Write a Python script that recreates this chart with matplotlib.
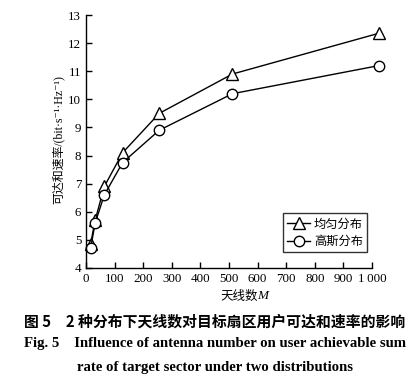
import matplotlib
matplotlib.use("Agg")
import matplotlib.pyplot as plt

antennas = [16, 32, 64, 128, 256, 512, 1024]
uniform = [4.85, 5.7, 6.9, 8.1, 9.5, 10.9, 12.35]
gaussian = [4.7, 5.6, 6.6, 7.75, 8.9, 10.2, 11.2]
series_names = ["均匀分布", "高斯分布"]
xticks = [0, 100, 200, 300, 400, 500, 600, 700, 800, 900, 1000]
xticklabels = ["0", "100", "200", "300", "400", "500", "600", "700", "800", "900", "1\u2009000"]
yticks = [4, 5, 6, 7, 8, 9, 10, 11, 12, 13]

SERIF = ["Liberation Serif", "Noto Sans CJK SC", "DejaVu Sans"]
plt.rcParams['font.family'] = SERIF

W, H = 420, 380
fig = plt.figure(figsize=(W / 100, H / 100), dpi=100)
ax = fig.add_axes([86 / W, 1 - 268 / H, (372 - 86) / W, (268 - 15) / H])

ax.plot(antennas, uniform, color="black", lw=1.0, marker="^", ms=8,
        mfc="white", mec="black", mew=1.0, label=series_names[0], clip_on=False)
ax.plot(antennas, gaussian, color="black", lw=1.0, marker="o", ms=7.5,
        mfc="white", mec="black", mew=1.0, label=series_names[1], clip_on=False)

ax.set_xlim(0, 1000)
ax.set_ylim(4, 13)
ax.set_xticks(xticks)
ax.set_xticklabels(xticklabels)
ax.set_yticks(yticks)
ax.tick_params(direction="in", length=4, width=1, labelsize=9.4, pad=3.5)
for s in ["top", "right"]:
    ax.spines[s].set_visible(False)
for s in ["left", "bottom"]:
    ax.spines[s].set_linewidth(1.0)

leg = ax.legend(loc="lower right", bbox_to_anchor=(0.983, 0.063), frameon=True,
                fancybox=False, edgecolor="black", handlelength=1.9,
                handletextpad=0.3, borderpad=0.35, labelspacing=0.35,
                borderaxespad=0.0,
                prop={"family": ["Noto Sans CJK SC"], "size": 8.8})
leg.get_frame().set_linewidth(1.0)

fig.text(58 / W, 1 - 140 / H, "可达和速率/(bit·s\u207b\u00b9·Hz\u207b\u00b9)",
         rotation=90, ha="center", va="center", fontsize=8.6, family=SERIF)

fig.text(258 / W, 1 - 296 / H, "天线数", ha="right", va="center", fontsize=9,
         family=["Noto Sans CJK SC"])
fig.text(257.5 / W, 1 - 296 / H, "M", ha="left", va="center", fontsize=9.5,
         family=["Liberation Serif"], style="italic")

fig.text(215 / W, 1 - 322 / H, "图 5\u30002 种分布下天线数对目标扇区用户可达和速率的影响",
         ha="center", va="center", fontsize=10.7, weight="bold",
         family=["Noto Sans CJK SC", "DejaVu Sans"])
fig.text(215 / W, 1 - 343 / H, "Fig. 5    Influence of antenna number on user achievable sum",
         ha="center", va="center", fontsize=10.6, weight="bold", family=["Liberation Serif"])
fig.text(215 / W, 1 - 367 / H, "rate of target sector under two distributions",
         ha="center", va="center", fontsize=10.6, weight="bold", family=["Liberation Serif"])

fig.savefig("out.png", dpi=100)
